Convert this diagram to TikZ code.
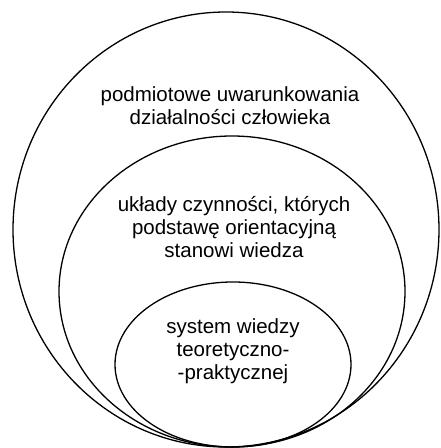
\documentclass[tikz,border=0pt]{standalone}
\usepackage{fontspec}
\setmainfont{Liberation Sans}
\usepackage{tikz}
\usetikzlibrary{positioning,shapes.geometric}
\tikzset{
  ring/.style={draw=black,line width=1.3pt},
  ringlab/.style={align=center,inner sep=0pt,font=\fontsize{20.5}{22.8}\selectfont}
}
\begin{document}
\begin{tikzpicture}
  \useasboundingbox (0pt,0pt) rectangle (440pt,448pt);
  % nested spheres, touching at the bottom
  \coordinate (outer) at (226pt,218.5pt);
  \coordinate (middle) at (232pt,156.5pt);
  \coordinate (inner) at (233pt,83.5pt);
  \draw[ring] (outer) ellipse [x radius=213pt,y radius=217.5pt];
  \draw[ring] (middle) ellipse [x radius=173pt,y radius=155.5pt];
  \draw[ring] (inner) ellipse [x radius=118pt,y radius=82.5pt];
  \node[ringlab] (outerlab) at (230pt,342pt) {podmiotowe uwarunkowania\\działalności człowieka};
  \node[ringlab] (middlelab) at (234pt,221pt) {układy czynności, których\\podstawę orientacyjną\\stanowi wiedza};
  \node[ringlab] (innerlab) at (233pt,97pt) {system wiedzy\\teoretyczno-\\-praktycznej};
\end{tikzpicture}
\end{document}
